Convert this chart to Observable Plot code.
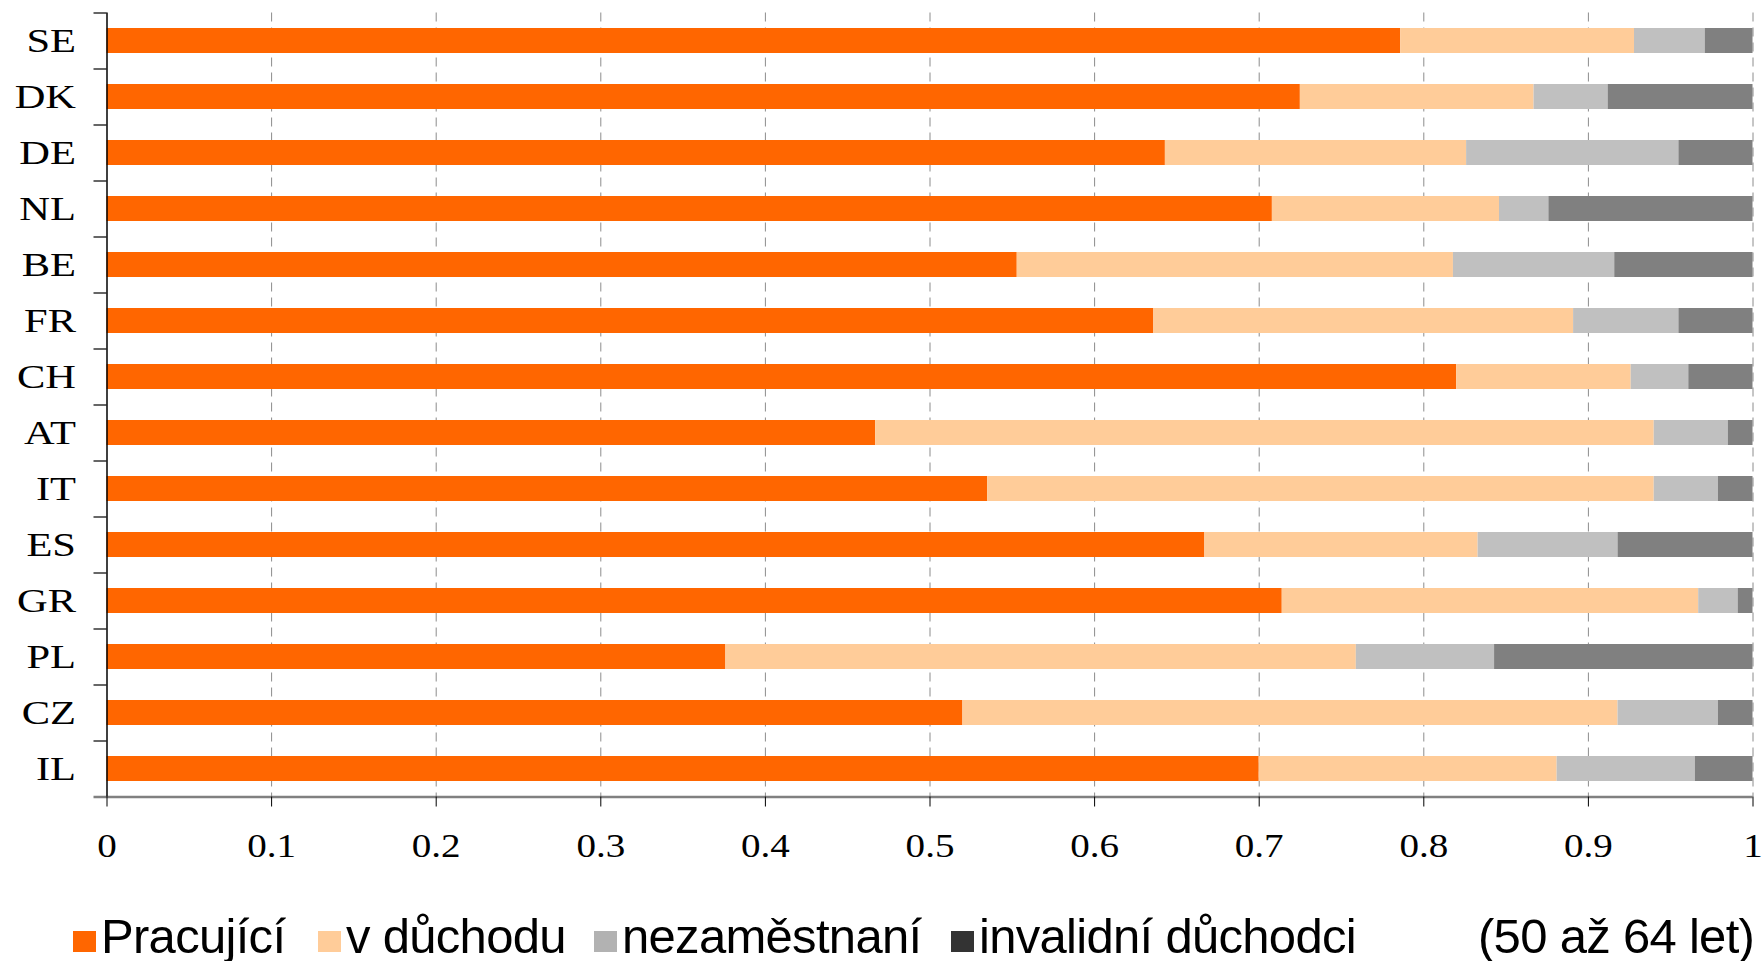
<!DOCTYPE html>
<html><head><meta charset="utf-8">
<script src="https://cdn.jsdelivr.net/npm/d3@7"></script>
<script src="https://cdn.jsdelivr.net/npm/@observablehq/plot@0.6"></script>
<style>
body{margin:0;background:#fff;}
#wrap{position:relative;width:1763px;height:961px;overflow:hidden;background:#fff}
#wrap svg{position:absolute;left:0;top:0;max-width:none!important}
#wrap svg text{font-family:"Liberation Serif","Times New Roman",serif!important}
.legend{position:absolute;left:0;top:880px;width:1763px;height:81px;font-family:"Liberation Sans",Arial,sans-serif;font-size:49px;letter-spacing:-0.7px;color:#000}
.legend .sw{position:absolute;width:23px;height:21px;top:51px}
.legend .lb{position:absolute;top:31.5px;line-height:1;white-space:nowrap}
</style></head><body><div id="wrap"></div>
<script>
const countries = ["SE","DK","DE","NL","BE","FR","CH","AT","IT","ES","GR","PL","CZ","IL"];
const pracujici = [0.786,0.725,0.643,0.708,0.553,0.636,0.820,0.467,0.535,0.667,0.714,0.376,0.520,0.700];
const duchod    = [0.142,0.142,0.183,0.138,0.265,0.255,0.106,0.473,0.405,0.166,0.253,0.383,0.398,0.181];
const nezam     = [0.043,0.045,0.129,0.030,0.098,0.064,0.035,0.045,0.039,0.085,0.024,0.084,0.061,0.084];
const invalid   = [0.029,0.088,0.045,0.124,0.084,0.045,0.039,0.015,0.021,0.082,0.009,0.157,0.021,0.035];
const seriesNames = ["Pracující","v důchodu","nezaměstnaní","invalidní důchodci"];
const barColors = ["#FF6600","#FFCC99","#C0C0C0","#808080"];
const legendColors = ["#FF6600","#FFCC99","#B2B2B2","#333333"];
const xTicks = [0,0.1,0.2,0.3,0.4,0.5,0.6,0.7,0.8,0.9,1];
const xTickLabels = ["0","0.1","0.2","0.3","0.4","0.5","0.6","0.7","0.8","0.9","1"];
const note = "(50 až 64 let)";

const seriesArrays = [pracujici, duchod, nezam, invalid];
const rows = [];
countries.forEach((c, i) => {
  seriesArrays.forEach((arr, k) => rows.push({country: c, series: seriesNames[k], value: arr[i]}));
});

const tickLen = 13 / 1646; // length of the y-axis tick marks in x units
const lastCountry = [countries[countries.length - 1]];

const plot = Plot.plot({
  width: 1763, height: 880,
  marginLeft: 106.5, marginRight: 10.5, marginTop: 12.5, marginBottom: 83.5,
  style: {background: "#fff", fontFamily: "'Liberation Serif','Times New Roman',serif", color: "#000", overflow: "visible"},
  x: {domain: [0, 1], label: null},
  y: {domain: countries, paddingInner: 0.55, paddingOuter: 0.275, label: null},
  color: {domain: seriesNames, range: barColors},
  marks: [
    Plot.ruleX(xTicks.filter(d => d > 0), {stroke: "#8c8c8c", strokeWidth: 1, strokeDasharray: "9,6"}),
    Plot.barX(rows, Plot.stackX({x: "value", y: "country", fill: "series"})),
    Plot.ruleY(countries, {y: d => d, x1: -tickLen, x2: 0, dy: -28, stroke: "#000", strokeWidth: 1.2}),
    Plot.ruleY(lastCountry, {y: d => d, x1: -tickLen, x2: 1, dy: 28, stroke: "#808080", strokeWidth: 2.5}),
    Plot.ruleX([0], {stroke: "#000", strokeWidth: 1.5}),
    Plot.axisX({ticks: xTicks, tickFormat: d => xTickLabels[xTicks.findIndex(t => Math.abs(t - d) < 1e-9)],
      tickSize: 10, tickPadding: 26, fontSize: 34, stroke: "#000", label: null}),
    Plot.axisY({tickSize: 0, tickPadding: 31, fontSize: 34, label: null})
  ]
});

const wrap = document.getElementById("wrap");
wrap.appendChild(plot);

// widen the tick label glyphs horizontally, as in the reference
function stretch(sel, sx) {
  plot.querySelectorAll(sel).forEach(t => {
    const len = t.getComputedTextLength();
    if (len > 0) {
      t.setAttribute("textLength", (len * sx).toFixed(2));
      t.setAttribute("lengthAdjust", "spacingAndGlyphs");
    }
  });
}
stretch('g[aria-label="y-axis tick label"] text', 1.25);
stretch('g[aria-label="x-axis tick label"] text', 1.15);

const legend = document.createElement("div");
legend.className = "legend";
const swLeft = [73, 318, 594, 951];
seriesNames.forEach((name, k) => {
  const sw = document.createElement("div");
  sw.className = "sw";
  sw.style.left = swLeft[k] + "px";
  sw.style.background = legendColors[k];
  legend.appendChild(sw);
  const lb = document.createElement("div");
  lb.className = "lb";
  lb.style.left = (swLeft[k] + 28) + "px";
  lb.textContent = name;
  legend.appendChild(lb);
});
const nt = document.createElement("div");
nt.className = "lb";
nt.style.left = "1478px";
nt.textContent = note;
legend.appendChild(nt);
wrap.appendChild(legend);
</script>
</body></html>
